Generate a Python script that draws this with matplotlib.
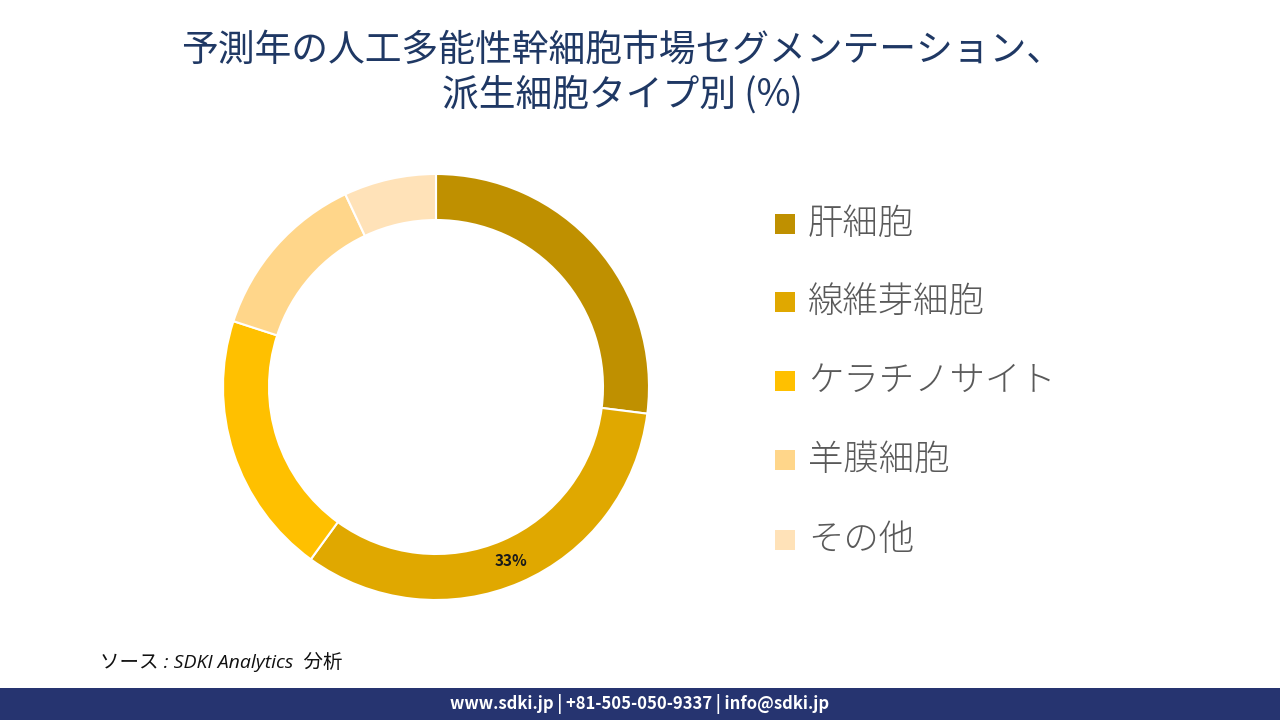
import matplotlib.pyplot as plt
from matplotlib.patches import Rectangle

plt.rcParams['font.family'] = ['Noto Sans CJK JP', 'DejaVu Sans']

# data
categories = ['肝細胞', '線維芽細胞', 'ケラチノサイト', '羊膜細胞', 'その他']
shares = [27, 33, 20, 13, 7]
colors = ['#BF9000', '#E0A800', '#FFC000', '#FFD68A', '#FFE2B8']
title = '予測年の人工多能性幹細胞市場セグメンテーション、\n派生細胞タイプ別 (%)'
source = 'ソース : SDKI Analytics  分析'
footer = 'www.sdki.jp | +81-505-050-9337 | info@sdki.jp'

W, H = 1280, 720
fig = plt.figure(figsize=(12.8, 7.2), dpi=100)

# donut
cx, cy, r = 436, 387, 213
ax = fig.add_axes([(cx - r) / W, 1 - (cy + r) / H, 2 * r / W, 2 * r / H])
wedges, texts, autotexts = ax.pie(
    shares, colors=colors, startangle=90, counterclock=False, radius=1,
    wedgeprops=dict(width=0.216, edgecolor='white', linewidth=1.5),
    autopct=lambda p: f'{p:.0f}%' if round(p) == 33 else '',
    pctdistance=0.892,
    textprops=dict(fontsize=11, fontweight='bold', color='#1a1a1a'))
ax.set_xlim(-1, 1)
ax.set_ylim(-1, 1)
ax.set_aspect('equal')
ax.axis('off')

# legend
leg_y = [224, 302, 381, 460, 540]
for cat, col, y in zip(categories, colors, leg_y):
    fig.patches.append(Rectangle((775 / W, 1 - (y + 10) / H), 20 / W, 20 / H,
                                 transform=fig.transFigure, facecolor=col, edgecolor='none'))
    fig.text(808 / W, 1 - y / H, cat, fontsize=25.5, color='#595959',
             va='center', ha='left', fontweight='light')

# title
fig.text(0.486, 1 - 73 / H, title, ha='center', va='center', fontsize=26.5,
         color='#1F3864', linespacing=1.2)

# source
fig.text(100 / W, 1 - 662 / H, source, fontsize=14, style='italic',
         family=['Open Sans', 'Noto Sans CJK JP'],
         color='#111111', va='center', ha='left')

# footer bar
fig.patches.append(Rectangle((0, 0), 1, 32 / H, transform=fig.transFigure,
                             facecolor='#263470', edgecolor='none'))
fig.text(0.5, 16 / H, footer, ha='center', va='center', fontsize=12,
         color='white', fontweight='bold')

fig.savefig('out.png', dpi=100)
